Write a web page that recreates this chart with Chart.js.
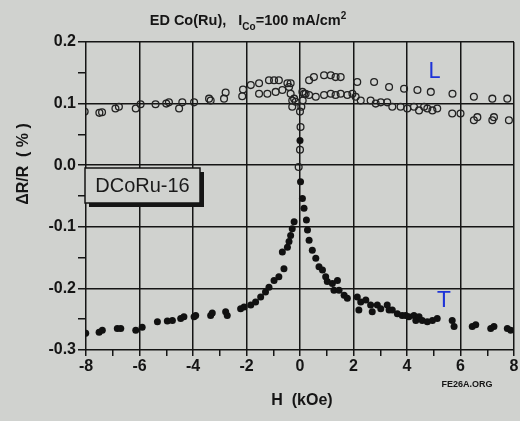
<!DOCTYPE html>
<html><head><meta charset="utf-8">
<script src="https://cdn.jsdelivr.net/npm/chart.js@4"></script>
<style>html,body{margin:0;padding:0;background:#d0d2cf;}#wrap{width:520px;height:421px;position:relative;}</style>
</head><body><div id="wrap"><canvas id="c" width="520" height="421"></canvas></div>
<script>
// Longitudinal (L, open circles)
const lH = [-8.05,-7.5,-7.4,-6.9,-6.77,-6.14,-5.96,-5.4,-5.0,-4.9,-4.52,-4.4,-3.96,-3.4,-3.34,-2.84,-2.78,-2.16,-2.13,-1.84,-1.53,-1.53,-1.22,-1.16,-0.97,-0.79,-0.91,-0.66,-0.47,-0.41,-0.35,-0.35,-0.29,-0.29,-0.22,-0.16,
  0.0,0.02,0.0,-0.05,0.05,0.1,0.09,0.21,
  0.34,0.52,0.9,1.15,1.33,1.52,2.14,2.77,3.33,3.89,4.39,4.89,5.7,6.5,7.19,7.75,
  0.15,0.34,0.59,0.9,1.15,1.33,1.52,1.77,1.96,2.08,2.27,2.64,2.83,3.02,3.26,3.45,3.76,4.01,4.26,4.45,4.64,4.76,4.95,5.13,5.69,6.0,6.5,6.63,7.19,7.25,7.81];
const lR = [0.087,0.085,0.086,0.092,0.095,0.092,0.099,0.099,0.100,0.102,0.092,0.102,0.102,0.108,0.105,0.108,0.118,0.112,0.123,0.130,0.133,0.116,0.116,0.138,0.138,0.138,0.119,0.122,0.133,0.127,0.116,0.133,0.105,0.095,0.108,0.103,
  0.087,0.062,0.025,-0.003,0.095,0.105,0.119,0.116,
  0.138,0.143,0.146,0.146,0.143,0.143,0.135,0.135,0.127,0.124,0.122,0.119,0.116,0.111,0.108,0.108,
  0.116,0.114,0.111,0.114,0.116,0.114,0.116,0.114,0.116,0.111,0.105,0.105,0.100,0.102,0.102,0.095,0.095,0.092,0.095,0.089,0.095,0.092,0.089,0.092,0.084,0.084,0.073,0.078,0.073,0.078,0.073];
// Transverse (T, filled dots)
const tH = [-8.01,-7.51,-7.39,-6.83,-6.7,-6.14,-5.9,-5.33,-4.96,-4.77,-4.46,-4.34,-3.96,-3.9,-3.34,-3.28,-2.78,-2.72,-2.22,-2.09,-1.84,-1.66,-1.47,-1.29,-1.16,-0.97,-0.79,-0.6,-0.66,-0.47,-0.41,-0.35,-0.29,-0.22,
  0.0,0.02,0.09,0.15,0.24,0.28,0.34,0.46,0.59,0.71,0.84,0.96,1.02,1.21,1.4,1.27,1.46,1.65,1.77,
  2.14,2.27,2.2,2.46,2.64,2.7,2.89,3.02,3.26,3.33,3.45,3.64,3.82,3.95,4.07,4.26,4.33,4.45,4.57,4.76,4.95,5.13,5.69,5.76,6.44,6.57,7.13,7.25,7.75,7.88];
const tR = [-0.273,-0.271,-0.268,-0.265,-0.265,-0.268,-0.263,-0.254,-0.253,-0.252,-0.249,-0.246,-0.246,-0.244,-0.244,-0.240,-0.238,-0.244,-0.233,-0.230,-0.227,-0.222,-0.214,-0.206,-0.198,-0.187,-0.181,-0.168,-0.141,-0.133,-0.124,-0.114,-0.103,-0.092,
  0.040,-0.027,-0.054,-0.070,-0.089,-0.105,-0.122,-0.138,-0.151,-0.165,-0.170,-0.181,-0.189,-0.192,-0.187,-0.203,-0.203,-0.211,-0.216,
  -0.214,-0.222,-0.235,-0.219,-0.227,-0.238,-0.227,-0.233,-0.227,-0.235,-0.235,-0.241,-0.244,-0.244,-0.246,-0.244,-0.252,-0.246,-0.252,-0.254,-0.252,-0.249,-0.252,-0.262,-0.262,-0.259,-0.265,-0.262,-0.265,-0.268];
const xTicks = [-8,-6,-4,-2,0,2,4,6,8];
const yTicks = [-0.3,-0.2,-0.1,0.0,0.1,0.2];
const sampleLabel = 'DCoRu-16';

const INK = '#151515';
const isMajorY = v => Math.abs(v*10 - Math.round(v*10)) < 1e-6;
const isMajorX = v => xTicks.includes(Math.round(v)) && Math.abs(v - Math.round(v)) < 1e-6;

const deco = {
  id: 'deco',
  beforeDraw(chart) {
    const ctx = chart.ctx;
    ctx.save();
    ctx.fillStyle = '#d0d2cf';
    ctx.fillRect(0, 0, chart.width, chart.height);
    ctx.restore();
  },
  afterDraw(chart) {
    const ctx = chart.ctx;
    ctx.save();
    ctx.fillStyle = INK;
    // title with subscript / superscript
    ctx.textBaseline = 'alphabetic';
    ctx.textAlign = 'left';
    const f = 'bold 14.5px "Liberation Sans", Arial, sans-serif';
    const fs = 'bold 10px "Liberation Sans", Arial, sans-serif';
    const parts = [['ED Co(Ru),   I', f, 0], ['Co', fs, 5], ['=100 mA/cm', f, 0], ['2', fs, -6]];
    let w = 0;
    parts.forEach(p => { ctx.font = p[1]; w += ctx.measureText(p[0]).width; });
    let cx = 248 - w / 2;
    parts.forEach(p => { ctx.font = p[1]; ctx.fillText(p[0], cx, 25 + p[2]); cx += ctx.measureText(p[0]).width; });
    // axis titles
    ctx.font = 'bold 16px "Liberation Sans", Arial, sans-serif';
    ctx.textAlign = 'center';
    ctx.textBaseline = 'middle';
    ctx.fillText('H  (kOe)', 302, 401);
    ctx.save();
    ctx.translate(24, 164);
    ctx.rotate(-Math.PI / 2);
    ctx.fillText('\u0394R/R  ( % )', 0, 0);
    ctx.restore();
    // watermark
    ctx.font = 'bold 9px "Liberation Sans", Arial, sans-serif';
    ctx.fillText('FE26A.ORG', 467, 385);
    // sample label box with shadow
    const bx = 85, by = 168, bw = 115, bh = 35;
    ctx.fillRect(bx + 4, by + 4, bw, bh);
    ctx.fillStyle = '#d0d2cf';
    ctx.fillRect(bx, by, bw, bh);
    ctx.strokeStyle = INK;
    ctx.lineWidth = 1.5;
    ctx.strokeRect(bx, by, bw, bh);
    ctx.fillStyle = '#1a1a1a';
    ctx.font = '20px "Liberation Sans", Arial, sans-serif';
    ctx.fillText(sampleLabel, bx + bw / 2, by + bh / 2 + 1);
    // handwritten annotations
    ctx.fillStyle = '#1d33d8';
    ctx.font = '21px "DejaVu Sans", sans-serif';
    ctx.fillText('L', 434, 73);
    ctx.fillText('T', 444, 302);
    ctx.restore();
  }
};

new Chart(document.getElementById('c'), {
  type: 'scatter',
  data: {
    datasets: [
      { label: 'L', data: lH.map((h, i) => ({x: h, y: lR[i]})), pointStyle: 'circle', pointRadius: 3.4,
        pointBorderWidth: 1.3, borderColor: '#222', backgroundColor: 'rgba(0,0,0,0)' },
      { label: 'T', data: tH.map((h, i) => ({x: h, y: tR[i]})), pointStyle: 'circle', pointRadius: 3.5,
        pointBorderWidth: 0, borderColor: '#111', backgroundColor: '#111' }
    ]
  },
  options: {
    responsive: false, animation: false, events: [],
    layout: { padding: { left: 0, right: 6, top: 42, bottom: 0 } },
    plugins: { legend: { display: false }, tooltip: { enabled: false }, title: { display: false } },
    scales: {
      x: {
        type: 'linear', min: -8, max: 8,
        afterBuildTicks: s => { const t = []; for (let v = -8; v <= 8; v++) t.push({value: v}); s.ticks = t; },
        afterFit: s => { s.height = 71; s.paddingLeft = 0; s.paddingRight = 0; },
        border: { display: false },
        grid: { color: c => isMajorX(c.tick.value) ? INK : 'rgba(0,0,0,0)', lineWidth: 1.5,
                tickColor: INK, tickLength: 6, drawTicks: true },
        ticks: { autoSkip: false, maxRotation: 0, padding: 1, color: INK,
                 font: { family: '"Liberation Sans", Arial, sans-serif', size: 16, weight: 'bold' },
                 callback: v => isMajorX(v) ? String(v) : '' }
      },
      y: {
        type: 'linear', min: -0.3, max: 0.2,
        afterBuildTicks: s => { const t = []; for (let i = -6; i <= 4; i++) t.push({value: i * 0.05}); s.ticks = t; },
        afterFit: s => { s.width = 86; s.paddingTop = 0; s.paddingBottom = 0; },
        border: { display: false },
        grid: { color: c => isMajorY(c.tick.value) ? INK : 'rgba(0,0,0,0)', lineWidth: 1.5,
                tickColor: INK, tickLength: 8 },
        ticks: { autoSkip: false, padding: 2, color: INK,
                 font: { family: '"Liberation Sans", Arial, sans-serif', size: 16, weight: 'bold' },
                 callback: v => { if (!isMajorY(v)) return ''; const r = Math.round(v * 10) / 10; return (Math.abs(r) < 1e-9 ? 0 : r).toFixed(1); } }
      }
    }
  },
  plugins: [deco]
});
</script></body></html>
